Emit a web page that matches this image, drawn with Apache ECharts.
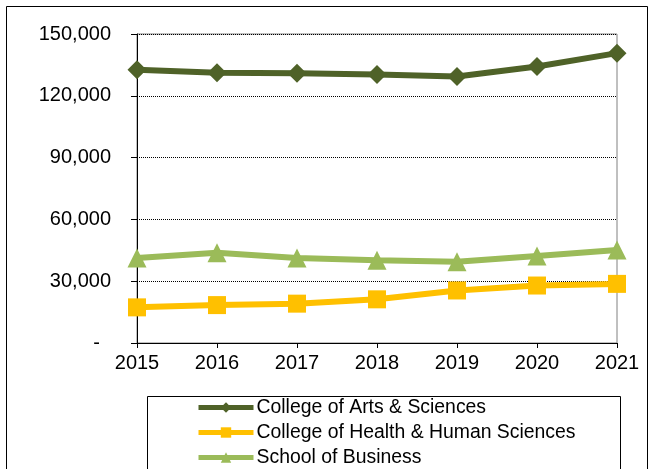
<!DOCTYPE html>
<html>
<head>
<meta charset="utf-8">
<script src="https://cdn.jsdelivr.net/npm/echarts@6/dist/echarts.min.js"></script>
<style>
  html, body { margin: 0; padding: 0; background: #fff; }
  #main { width: 652px; height: 469px; }
</style>
</head>
<body>
<div id="main"></div>
<script>
// 年份（x轴）
var years = ['2015', '2016', '2017', '2018', '2019', '2020', '2021'];
// 各学院数据
var artsSciences = [132600, 131200, 131000, 130400, 129400, 134200, 140700];
var healthHuman = [17300, 18400, 19100, 21200, 25500, 27900, 28700];
var business = [41300, 43800, 41300, 40200, 39400, 42200, 45100];
var seriesNames = ['College of Arts & Sciences', 'College of Health & Human Sciences', 'School of Business'];
var yTicks = [0, 30000, 60000, 90000, 120000, 150000];

(function(){
    var myChart = echarts.init(document.getElementById('main'));
    var font = 'Liberation Sans, Arial, sans-serif';

    function mkLine(name, data, color, symbol, size){
        return {
            name: name,
            type: 'line',
            data: data,
            symbol: symbol,
            symbolSize: size,
            lineStyle: { color: color, width: 6 },
            itemStyle: { color: color },
            emphasis: { disabled: true },
            animation: false
        };
    }

    //每个图例单独放一行
    function mkLegend(name, i){
        return {
            data: [name],
            left: 196, top: 398 + 25 * i,
            padding: 0,
            itemWidth: 55, itemHeight: 13,
            lineStyle: { width: 5 },
            textStyle: { fontFamily: font, fontSize: 19.4, color: '#000', padding: [0, 0, 0, -2] }
        };
    }

    var option = {
        backgroundColor: '#fff',
        graphic: [{
            //外框
            type: 'rect',
            shape: { x: 6.5, y: 6.5, width: 641, height: 480 },
            style: { fill: 'none', stroke: '#000', lineWidth: 1 },
            silent: true
        }, {
            //图例框
            type: 'rect',
            shape: { x: 147.5, y: 396.5, width: 473, height: 100 },
            style: { fill: 'none', stroke: '#000', lineWidth: 1 },
            silent: true
        }],
        grid: {
            left: 137, right: 35, top: 34, bottom: 126,
            show: true, borderColor: '#808080', borderWidth: 1
        },
        legend: seriesNames.map(mkLegend),
        xAxis: {
            type: 'category',
            data: years,
            boundaryGap: false,
            axisLine: { lineStyle: { color: '#000', width: 1 } },
            axisTick: { show: true, length: 5, lineStyle: { color: '#000' } },
            axisLabel: { fontFamily: font, fontSize: 20, color: '#000', margin: 10 },
            splitLine: { show: false }
        },
        yAxis: {
            type: 'value',
            min: yTicks[0], max: yTicks[yTicks.length - 1], interval: 30000,
            axisLine: { show: true, lineStyle: { color: '#000', width: 1 } },
            axisTick: { show: true, length: 6, lineStyle: { color: '#000' } },
            axisLabel: {
                fontFamily: font, fontSize: 20, color: '#000', margin: 26,
                formatter: function(v){
                    if (v === 0) return '-  ';
                    return v.toLocaleString('en-US');
                }
            },
            splitLine: { show: true, lineStyle: { color: '#000', type: [1, 1], width: 1 } }
        },
        series: [
            mkLine(seriesNames[0], artsSciences, '#4f6228', 'diamond', 19),
            mkLine(seriesNames[1], healthHuman, '#ffc000', 'rect', 18),
            mkLine(seriesNames[2], business, '#9bbb59', 'triangle', 19)
        ]
    };
    myChart.setOption(option);
})();
</script>
</body>
</html>
